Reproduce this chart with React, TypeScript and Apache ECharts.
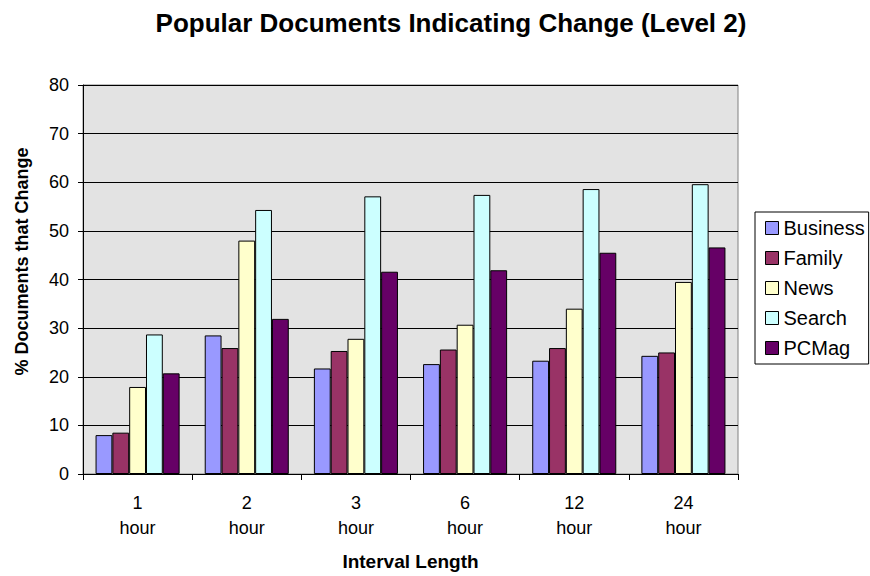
import React, { useEffect, useRef } from "react";
import * as echarts from "echarts";

const categories = ["1\nhour", "2\nhour", "3\nhour", "6\nhour", "12\nhour", "24\nhour"];
const seriesNames = ["Business", "Family", "News", "Search", "PCMag"];
const business = [8.0, 28.5, 21.7, 22.6, 23.3, 24.3];
const family = [8.5, 25.9, 25.3, 25.6, 25.9, 25.0];
const news = [17.9, 48.0, 27.8, 30.7, 34.0, 39.5];
const search = [28.7, 54.3, 57.1, 57.4, 58.6, 59.6];
const pcmag = [20.7, 31.9, 41.6, 41.9, 45.5, 46.6];
const yTicks = { min: 0, max: 80, interval: 10 };

const colors = ["#9999FF", "#993366", "#FFFFCC", "#CCFFFF", "#660066"];
const FONT = "Liberation Sans, Arial, sans-serif";

export default function App() {
  const ref = useRef<HTMLDivElement>(null);
  useEffect(() => {
    if (!ref.current) return;
    const chart = echarts.init(ref.current, undefined, { renderer: "svg" });
    const values = [business, family, news, search, pcmag];
    chart.setOption({
      animation: false,
      backgroundColor: "#ffffff",
      textStyle: { fontFamily: FONT },
      title: {
        text: "Popular Documents Indicating Change (Level 2)",
        left: 446,
        top: 5,
        textAlign: "center",
        textStyle: { fontFamily: FONT, fontSize: 26, fontWeight: "bold", color: "#000" },
      },
      legend: {
        orient: "vertical",
        left: 755,
        top: 212,
        padding: [6, 4, 6, 10],
        itemWidth: 13,
        itemHeight: 13,
        itemGap: 10,
        borderColor: "#000",
        borderWidth: 1,
        backgroundColor: "#fff",
        borderRadius: 0,
        icon: "rect",
        itemStyle: { borderColor: "#000", borderWidth: 1 },
        textStyle: { fontFamily: FONT, fontSize: 20, color: "#000", lineHeight: 20 },
        data: seriesNames,
      },
      grid: {
        left: 83,
        top: 85,
        width: 655,
        height: 389,
        show: true,
        backgroundColor: "#E3E3E3",
        borderColor: "#808080",
        borderWidth: 1,
      },
      xAxis: {
        type: "category",
        data: categories,
        name: "Interval Length",
        nameLocation: "middle",
        nameGap: 78,
        nameTextStyle: { fontFamily: FONT, fontSize: 19, fontWeight: "bold", color: "#000" },
        axisLine: { show: true, lineStyle: { color: "#000", width: 1 } },
        axisTick: { show: true, length: 6, alignWithLabel: false, lineStyle: { color: "#000" } },
        axisLabel: {
          fontFamily: FONT,
          fontSize: 18,
          color: "#000",
          lineHeight: 25,
          margin: 16,
          interval: 0,
        },
        splitLine: { show: false },
      },
      yAxis: {
        type: "value",
        min: yTicks.min,
        max: yTicks.max,
        interval: yTicks.interval,
        name: "% Documents that Change",
        nameLocation: "middle",
        nameGap: 52,
        nameTextStyle: {
          fontFamily: FONT,
          fontSize: 18,
          fontWeight: "bold",
          color: "#000",
          padding: [0, 0, 0, 36],
        },
        axisLine: { show: true, lineStyle: { color: "#000", width: 1 } },
        axisTick: { show: true, length: 5, lineStyle: { color: "#000" } },
        axisLabel: { fontFamily: FONT, fontSize: 18, color: "#000", margin: 14 },
        splitLine: { show: true, lineStyle: { color: "#000", width: 1 } },
      },
      series: seriesNames.map((name, i) => ({
        name,
        type: "bar",
        data: values[i],
        barGap: "0%",
        barCategoryGap: "23%",
        itemStyle: { color: colors[i], borderColor: "#000", borderWidth: 1 },
      })),
    });
    return () => chart.dispose();
  }, []);
  return (
    <div
      ref={ref}
      style={{ position: "fixed", left: 0, top: 0, width: 870, height: 576 }}
    />
  );
}
